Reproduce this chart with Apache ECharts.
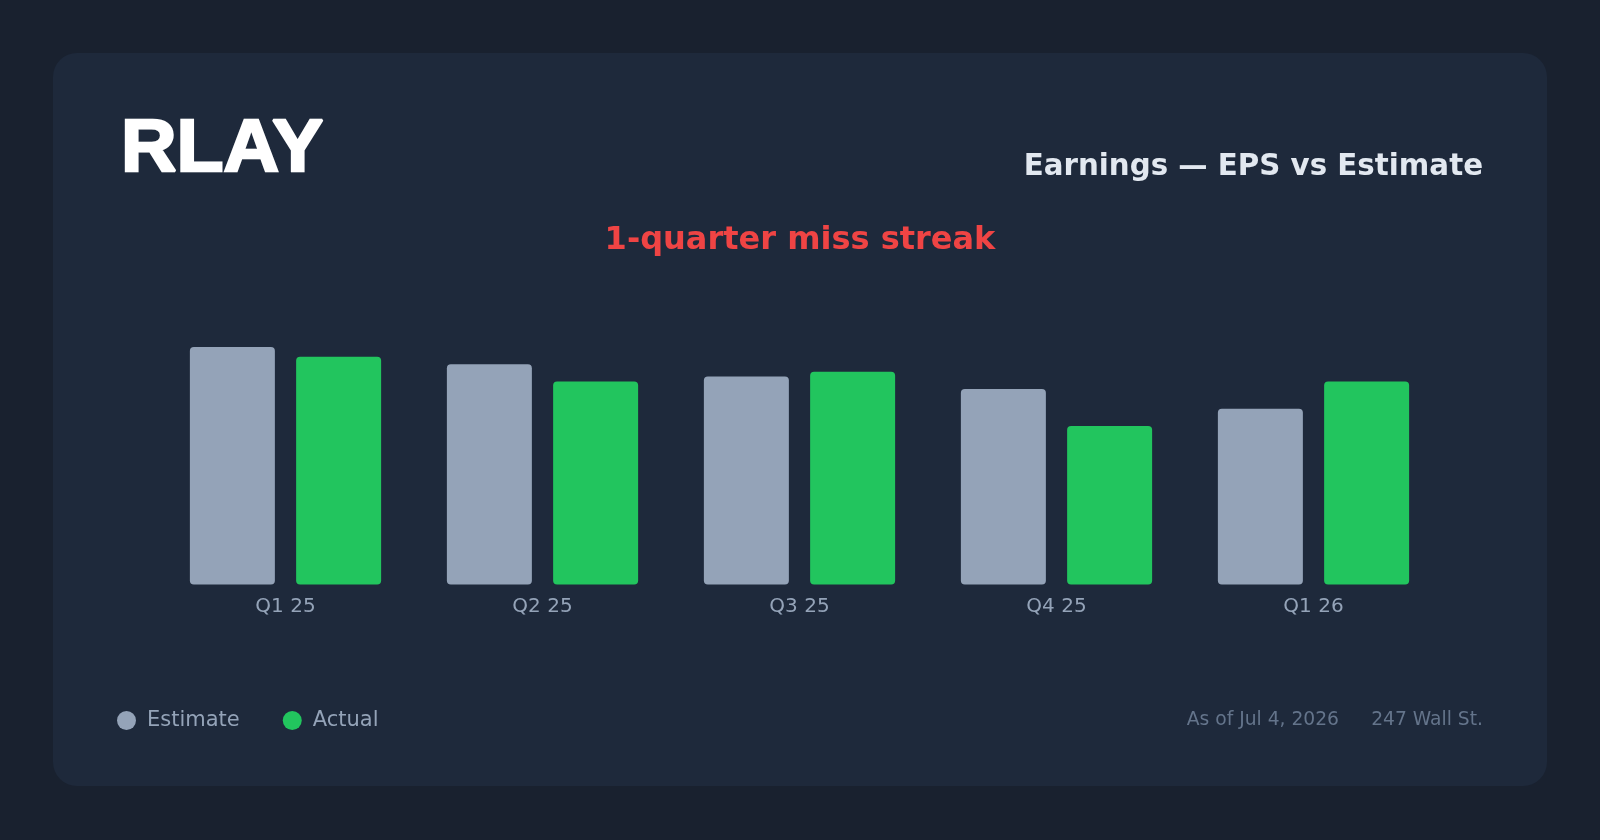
<!DOCTYPE html>
<html>
<head>
<meta charset="utf-8">
<script src="https://cdn.jsdelivr.net/npm/echarts@6/dist/echarts.min.js"></script>
<style>
html,body{margin:0;padding:0;background:#19212f;}
#c{width:1600px;height:840px;}
</style>
</head>
<body>
<div id="c"></div>
<script>
const ticker = 'RLAY';
const subtitle = 'Earnings — EPS vs Estimate';
const streakText = '1-quarter miss streak';
const quarters = ['Q1 25', 'Q2 25', 'Q3 25', 'Q4 25', 'Q1 26'];
const estimateEPS = [-0.48, -0.445, -0.42, -0.395, -0.355];
const actualEPS = [-0.46, -0.41, -0.43, -0.32, -0.41];
const asOf = 'As of Jul 4, 2026';
const source = '247 Wall St.';

const chart = echarts.init(document.getElementById('c'), null, {renderer: 'canvas'});
const sans = '"DejaVu Sans", sans-serif';
function txt(x, y, text, color, size, weight, align, family) {
  return {type: 'text', x: x, y: y, style: {text: text, fill: color, fontSize: size, fontWeight: weight,
    fontFamily: family || sans, verticalAlign: 'middle', align: align}};
}
const title = txt(121, 150.5, ticker, '#ffffff', 74, 'bold', 'left', '"Liberation Sans", Arial, sans-serif');
title.scaleX = 1.04;
title.style.stroke = '#ffffff';
title.style.lineWidth = 2.5;
title.style.lineJoin = 'round';

chart.setOption({
  backgroundColor: '#19212f',
  animation: false,
  graphic: [
    {type: 'rect', shape: {x: 53, y: 53, width: 1494, height: 733, r: 24}, style: {fill: '#1e293b'}, z: -10},
    title,
    txt(1483, 167, subtitle, '#e2e8f0', 29.3, 'bold', 'right'),
    txt(800, 241, streakText, '#ef4444', 32, 'bold', 'center'),
    txt(1483, 720, source, '#64748b', 18.7, 'normal', 'right'),
    txt(1339, 720, asOf, '#64748b', 18.7, 'normal', 'right')
  ],
  legend: {
    left: 117, top: 710, padding: 0,
    icon: 'circle', itemWidth: 19, itemHeight: 19, itemGap: 43,
    textStyle: {color: '#94a3b8', fontSize: 21, fontFamily: sans, padding: [0, 0, 0, 6]},
    data: ['Estimate', 'Actual']
  },
  grid: {left: 157, right: 158, top: 337, bottom: 255.5},
  xAxis: {
    type: 'category', data: quarters,
    axisLine: {show: false}, axisTick: {show: false},
    axisLabel: {color: '#94a3b8', fontSize: 20, fontFamily: sans, margin: 12}
  },
  yAxis: {type: 'value', min: 0, max: 0.5, show: false, splitLine: {show: false}},
  series: [
    {name: 'Estimate', type: 'bar', data: estimateEPS.map(Math.abs), barWidth: 85, barGap: '25%',
     itemStyle: {color: '#94a3b8', borderRadius: 4}},
    {name: 'Actual', type: 'bar', data: actualEPS.map(Math.abs), barWidth: 85, barGap: '25%',
     itemStyle: {color: '#22c55e', borderRadius: 4}}
  ]
});
</script>
</body>
</html>
